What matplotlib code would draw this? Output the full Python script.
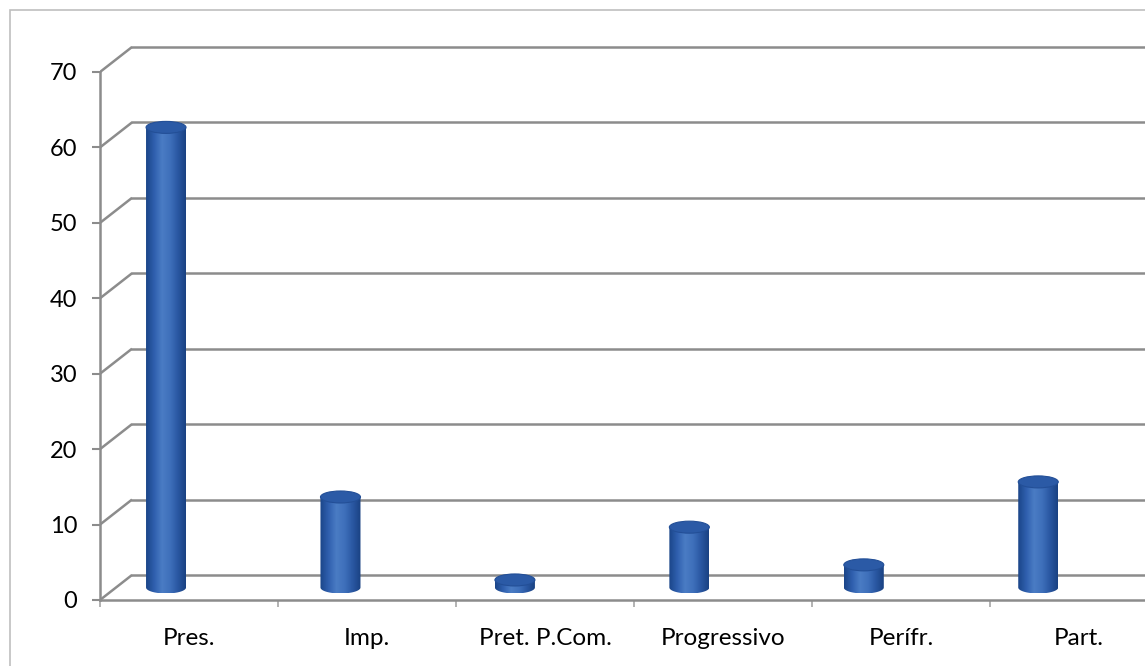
import matplotlib.pyplot as plt
import numpy as np
from matplotlib.colors import LinearSegmentedColormap
from matplotlib.patches import Ellipse, Polygon, Rectangle

plt.rcParams["font.family"] = ["Lato", "DejaVu Sans"]

categories = ["Pres.", "Imp.", "Pret. P.Com.", "Progressivo", "Perífr.", "Part."]
values = [61, 12, 1, 8, 3, 14]
yticks = [0, 10, 20, 30, 40, 50, 60, 70]

W, H = 1145, 666
grid_col = "#8c8c8c"

fig = plt.figure(figsize=(W / 100, H / 100), dpi=100)
# front axis sits at x=100px, value 0 at 600px from the top
ax = fig.add_axes([100 / W, 66 / H, 1 - 100 / W, 600 / H])
px_x = 178.0          # pixels per category
px_y = 528.0 / 70     # pixels per unit
xmax = (W - 100) / px_x
ymax = 600 / px_y

# depth of the fake 3d box
dx = 32 / px_x
dy = 25 / px_y

# walls: diagonal side lines + back gridlines
for v in yticks:
    ax.plot([0, dx], [v, v + dy], color=grid_col, lw=1.8, solid_capstyle="butt", zorder=1)
    ax.plot([dx, xmax], [v + dy, v + dy], color=grid_col, lw=1.8, zorder=1)

# cylinder look
cmap = LinearSegmentedColormap.from_list(
    "cyl", ["#1b4689", "#2f5fae", "#4a7cc4", "#3f70bb", "#2a58a3", "#1a4283"])
grad = np.linspace(0, 1, 64).reshape(1, -1)

bw = 40 / px_x
eh = 12 / px_y
for i, v in enumerate(values):
    xc = 0.371 + i * 0.98
    yb = dy / 2
    yt = v + dy / 2
    t = np.linspace(0, np.pi, 40)
    lower = np.column_stack([xc + bw / 2 * np.cos(t), yb - eh / 2 * np.sin(t)])
    outline = np.vstack([[xc - bw / 2, yt], [xc + bw / 2, yt], lower])
    clip = Polygon(outline, closed=True, transform=ax.transData, fc="none", ec="none")
    ax.add_patch(clip)
    im = ax.imshow(grad, cmap=cmap, aspect="auto", interpolation="bilinear",
                   extent=[xc - bw / 2, xc + bw / 2, yb - eh / 2, yt], zorder=3)
    im.set_clip_path(clip)
    ax.add_patch(Ellipse((xc, yt), bw, eh, fc="#2b5aa6", ec="#234f97", lw=0.8, zorder=4))

for s in ["top", "right"]:
    ax.spines[s].set_visible(False)
ax.spines["left"].set_bounds(0, 70)
ax.spines["left"].set_color(grid_col)
ax.spines["left"].set_linewidth(1.8)
ax.spines["bottom"].set_color(grid_col)
ax.spines["bottom"].set_linewidth(1.8)

ax.set_yticks(yticks)
ax.set_yticklabels([str(v) for v in yticks])
ax.tick_params(axis="y", direction="out", length=5.5, width=1.5, color=grid_col,
               pad=11, labelsize=17)

ax.set_xticks(range(len(categories) + 1))
ax.set_xticklabels([])
ax.set_xticks([i + 0.5 for i in range(len(categories))], minor=True)
ax.set_xticklabels(categories, minor=True)
ax.tick_params(axis="x", which="major", direction="out", length=5, width=1.2, color="#a6a6a6")
ax.tick_params(axis="x", which="minor", length=0, pad=20, labelsize=17.5)

# limits last, so the ticks do not widen them
ax.set_xlim(0, xmax)
ax.set_ylim(0, ymax)

fig.patches.append(Rectangle((10 / W, -0.1), 1.2, 1 - 10 / H + 0.1, transform=fig.transFigure,
                             fill=False, ec="#bfbfbf", lw=1.2))

fig.savefig("out.png", dpi=100)
